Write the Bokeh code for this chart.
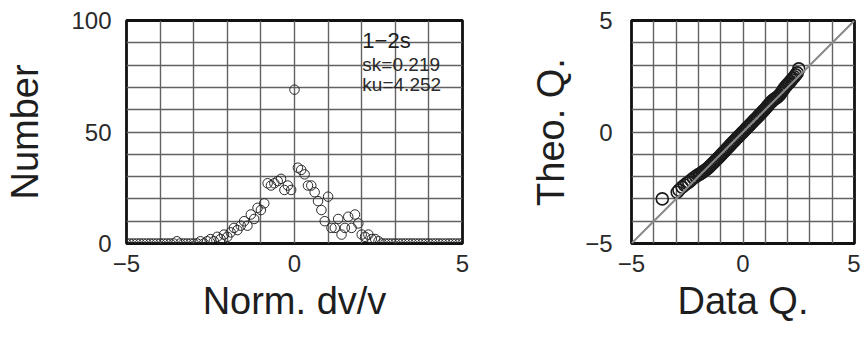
from bokeh.plotting import figure
from bokeh.layouts import row
from bokeh.models import FixedTicker, Label, Slope
from bokeh.embed import file_html
from bokeh.resources import INLINE

FONT = "Liberation Sans"

# ---- Histogram of normalised dv/v (1-2 s window) ----
bin_x = [
    -5.0, -4.9, -4.8, -4.7, -4.6, -4.5, -4.4, -4.3, -4.2, -4.1,
    -4.0, -3.9, -3.8, -3.7, -3.6, -3.5, -3.4, -3.3, -3.2, -3.1,
    -3.0, -2.9, -2.8, -2.7, -2.6, -2.5, -2.4, -2.3, -2.2, -2.1,
    -2.0, -1.9, -1.8, -1.7, -1.6, -1.5, -1.4, -1.3, -1.2, -1.1,
    -1.0, -0.9, -0.8, -0.7, -0.6, -0.5, -0.4, -0.3, -0.2, -0.1,
    0.0, 0.1, 0.2, 0.3, 0.4, 0.5, 0.6, 0.7, 0.8, 0.9,
    1.0, 1.1, 1.2, 1.3, 1.4, 1.5, 1.6, 1.7, 1.8, 1.9,
    2.0, 2.1, 2.2, 2.3, 2.4, 2.5, 2.6, 2.7, 2.8, 2.9,
    3.0, 3.1, 3.2, 3.3, 3.4, 3.5, 3.6, 3.7, 3.8, 3.9,
    4.0, 4.1, 4.2, 4.3, 4.4, 4.5, 4.6, 4.7, 4.8, 4.9,
    5.0,
]
bin_count = [
    0, 0, 0, 0, 0, 0, 0, 0, 0, 0,
    0, 0, 0, 0, 0, 1, 0, 0, 0, 0,
    0, 0, 1, 0, 1, 2, 1, 3, 2, 4,
    3, 5, 7, 6, 8, 10, 8, 13, 11, 16,
    15, 18, 27, 26, 27, 28, 29, 24, 26, 24,
    69, 34, 33, 31, 26, 26, 23, 19, 15, 10,
    21, 7, 7, 11, 4, 7, 12, 7, 13, 9,
    4, 3, 4, 2, 2, 1, 0, 0, 0, 0,
    0, 0, 0, 0, 0, 0, 0, 0, 0, 0,
    0, 0, 0, 0, 0, 0, 0, 0, 0, 0,
    0,
]
hist_xticks = [-5, 0, 5]
hist_yticks = [0, 50, 100]
title_text = "1\u22122s"
skew_text = "sk=0.219"
kurt_text = "ku=4.252"

# ---- Q-Q plot ----
data_q = [
    -3.62, -2.95, -2.87, -2.73, -2.62, -2.52, -2.43, -2.33, -2.22, -2.12,
    -2.03, -1.96, -1.90, -1.84, -1.78, -1.72, -1.66, -1.60, -1.54, -1.48,
    -1.42, -1.36, -1.30, -1.24, -1.18, -1.12, -1.06, -1.00, -0.94, -0.88,
    -0.82, -0.76, -0.70, -0.64, -0.58, -0.52, -0.46, -0.40, -0.34, -0.28,
    -0.22, -0.16, -0.10, -0.04, 0.02, 0.08, 0.14, 0.20, 0.26, 0.32,
    0.38, 0.44, 0.50, 0.56, 0.62, 0.68, 0.74, 0.80, 0.86, 0.92,
    0.98, 1.04, 1.10, 1.16, 1.22, 1.28, 1.34, 1.40, 1.46, 1.52,
    1.58, 1.64, 1.70, 1.76, 1.82, 1.88, 1.94, 2.00, 2.06, 2.12,
    2.18, 2.24, 2.30, 2.36, 2.43, 2.50,
]
theo_q = [
    -3.00, -2.70, -2.60, -2.47, -2.38, -2.30, -2.25, -2.16, -2.06, -2.00,
    -1.93, -1.90, -1.86, -1.82, -1.77, -1.73, -1.69, -1.64, -1.59, -1.53,
    -1.47, -1.41, -1.35, -1.29, -1.23, -1.17, -1.11, -1.05, -0.98, -0.92,
    -0.86, -0.79, -0.73, -0.66, -0.60, -0.53, -0.47, -0.41, -0.35, -0.28,
    -0.22, -0.16, -0.10, -0.04, 0.02, 0.08, 0.15, 0.21, 0.27, 0.33,
    0.39, 0.46, 0.52, 0.58, 0.64, 0.70, 0.77, 0.83, 0.89, 0.96,
    1.02, 1.09, 1.16, 1.23, 1.30, 1.36, 1.42, 1.47, 1.51, 1.55,
    1.60, 1.66, 1.74, 1.83, 1.92, 2.00, 2.07, 2.14, 2.20, 2.27,
    2.34, 2.41, 2.48, 2.56, 2.65, 2.83,
]
qq_ticks = [-5, 0, 5]
grid_steps = [-5, -4, -3, -2, -1, 0, 1, 2, 3, 4, 5]
hist_grid_y = [0, 10, 20, 30, 40, 50, 60, 70, 80, 90, 100]

MINUS = {-5: "\u22125"}


def style(p, xticks, yticks, xgrid, ygrid, xlabel, ylabel,
          ytick_standoff, ylab_standoff):
    p.xaxis.ticker = FixedTicker(ticks=xticks)
    p.yaxis.ticker = FixedTicker(ticks=yticks)
    p.xgrid.ticker = FixedTicker(ticks=xgrid)
    p.ygrid.ticker = FixedTicker(ticks=ygrid)
    for g in (p.xgrid, p.ygrid):
        g.grid_line_color = "#626262"
        g.grid_line_width = 1.4
    p.xaxis.major_label_overrides = MINUS
    p.yaxis.major_label_overrides = MINUS
    for ax in (p.xaxis, p.yaxis):
        ax.axis_line_color = None
        ax.major_tick_line_color = None
        ax.minor_tick_line_color = None
        ax.major_label_text_font = FONT
        ax.major_label_text_font_size = "24px"
        ax.major_label_text_color = "#2a2a2a"
        ax.axis_label_text_font = FONT
        ax.axis_label_text_font_size = "38px"
        ax.axis_label_text_font_style = "normal"
        ax.axis_label_text_color = "#1e1e1e"
    p.xaxis.major_label_standoff = 5
    p.yaxis.major_label_standoff = ytick_standoff
    p.xaxis.axis_label = xlabel
    p.yaxis.axis_label = ylabel
    p.xaxis.axis_label_standoff = 5
    p.yaxis.axis_label_standoff = ylab_standoff
    p.outline_line_color = "#111111"
    p.outline_line_width = 2.8
    p.background_fill_color = "white"
    p.border_fill_color = "white"


p1 = figure(width=500, height=340, x_range=(-5, 5), y_range=(0, 100),
            min_border_left=126, min_border_right=38, min_border_top=20,
            min_border_bottom=97, output_backend="svg", toolbar_location=None)
style(p1, hist_xticks, hist_yticks, grid_steps, hist_grid_y,
      "Norm. dv/v", "Number", 9, 22)
p1.scatter(bin_x, bin_count, marker="circle", size=9.5, fill_color=None,
           line_color="#2a2a2a", line_width=1.0)
p1.add_layout(Label(x=2.02, y=85.5, text=title_text, text_font=FONT,
                    text_font_size="22px", text_color="#1e1e1e"))
p1.add_layout(Label(x=2.02, y=75.5, text=skew_text, text_font=FONT,
                    text_font_size="19px", text_color="#2a2a2a"))
p1.add_layout(Label(x=2.02, y=66.5, text=kurt_text, text_font=FONT,
                    text_font_size="19px", text_color="#2a2a2a"))

p2 = figure(width=360, height=340, x_range=(-5, 5), y_range=(-5, 5),
            min_border_left=131, min_border_right=6, min_border_top=20,
            min_border_bottom=97, output_backend="svg", toolbar_location=None)
style(p2, qq_ticks, qq_ticks, grid_steps, grid_steps,
      "Data Q.", "Theo. Q.", 13, 10)
p2.scatter(data_q, theo_q, marker="circle", size=12, fill_color=None,
           line_color="#1a1a1a", line_width=1.6)
p2.add_layout(Slope(gradient=1, y_intercept=0, line_color="#8a8a8a",
                    line_width=2))

layout = row(p1, p2)
open("out.html", "w").write(file_html(layout, INLINE))
